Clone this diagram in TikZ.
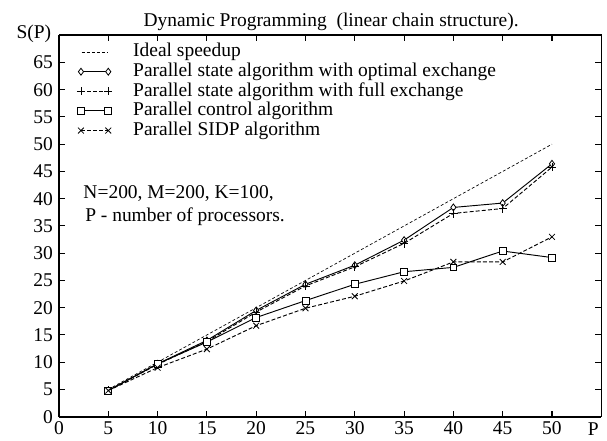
\documentclass[tikz,border=0pt]{standalone}
\usepackage{fontspec}
\setmainfont{Liberation Serif}
\usetikzlibrary{plotmarks}

\begin{document}
\begin{tikzpicture}[x=7.395pt,y=4.0875pt,
font=\rmfamily\fontsize{14.6}{17}\selectfont,
frame/.style={black,line width=1.1pt},
axtick/.style={black,line width=0.8pt},
ticklabel/.style={inner sep=0pt},
idealline/.style={dash pattern=on 2.2pt off 1.6pt,line width=0.5pt},
solidcurve/.style={line width=0.7pt,mark size=2.6pt,mark options={solid,fill=white,line width=0.6pt}},
dashcurve/.style={solidcurve,dash pattern=on 3pt off 1.6pt,mark size=3.1pt}]

\useasboundingbox (-5.98,-4.28) rectangle (55.58,76.46);

% frame and ticks
\draw[frame] (0,70) -- (0,0) (55,0) -- (55,70) -- (0,70);
\draw[frame,line width=1.5pt] (0,0) -- (55,0);
\foreach \t in {5,10,...,50} {
  \draw[axtick] (\t,0) -- ++(0,1.1);
  \draw[axtick] (\t,70) -- ++(0,-1.1);
}
\foreach \t in {5,10,...,65} {
  \draw[axtick] (0,\t) -- ++(0.6,0);
  \draw[axtick] (55,\t) -- ++(-0.6,0);
}
\foreach \t in {0,5,...,50}
  \node[ticklabel] (xl\t) at (\t,-2.1) {\t};
\foreach \t in {0,5,...,65}
  \node[ticklabel,anchor=east] (yl\t) at (-0.6,\t) {\t};

\node (title) at (27.6,72.4) {Dynamic Programming~~(linear chain structure).};
\node[inner sep=0pt] (ylabel) at (-2.54,70.3) {S(P)};
\node[inner sep=0pt] (xlabel) at (54.2,-2.2) {P};

% curves
\draw[idealline] (5,5) -- (50,50);
\draw[solidcurve,mark=diamond*] plot coordinates {(5,4.8) (10,9.7) (15,14) (20,19.5) (25,24.3) (30,27.8) (35,32.4) (40,38.4) (45,39.2) (50,46.4)};
\draw[dashcurve,mark=+] plot coordinates {(5,4.8) (10,9.6) (15,13.8) (20,19.2) (25,24.0) (30,27.5) (35,31.8) (40,37.3) (45,38.2) (50,45.8)};
\draw[solidcurve,mark=square*] plot coordinates {(5,4.8) (10,9.7) (15,13.7) (20,18.2) (25,21.3) (30,24.3) (35,26.6) (40,27.4) (45,30.4) (50,29.2)};
\draw[dashcurve,mark=x] plot coordinates {(5,4.8) (10,9.0) (15,12.4) (20,16.7) (25,19.9) (30,22.1) (35,24.9) (40,28.4) (45,28.4) (50,33.0)};

% legend
\draw[idealline] (2.3,66.9) -- (4.9,66.9);
\node[anchor=west,inner sep=0pt] (lg1) at (7.5,66.9) {Ideal speedup};
\draw[solidcurve,mark=diamond*] plot coordinates {(2.23,63.3) (5.0,63.3)};
\node[anchor=west,inner sep=0pt] (lg2) at (7.5,63.3) {Parallel state algorithm with optimal exchange};
\draw[dashcurve,mark=+] plot coordinates {(2.23,59.7) (5.0,59.7)};
\node[anchor=west,inner sep=0pt] (lg3) at (7.5,59.7) {Parallel state algorithm with full exchange};
\draw[solidcurve,mark=square*] plot coordinates {(2.23,56.1) (5.0,56.1)};
\node[anchor=west,inner sep=0pt] (lg4) at (7.5,56.1) {Parallel control algorithm};
\draw[dashcurve,mark=x] plot coordinates {(2.23,52.5) (5.0,52.5)};
\node[anchor=west,inner sep=0pt] (lg5) at (7.5,52.5) {Parallel SIDP algorithm};

\node[anchor=west,inner sep=0pt] (params) at (2.46,40.9) {N=200, M=200, K=100,};
\node[anchor=west,inner sep=0pt] (procs) at (2.64,36.7) {P - number of processors.};

\end{tikzpicture}
\end{document}
